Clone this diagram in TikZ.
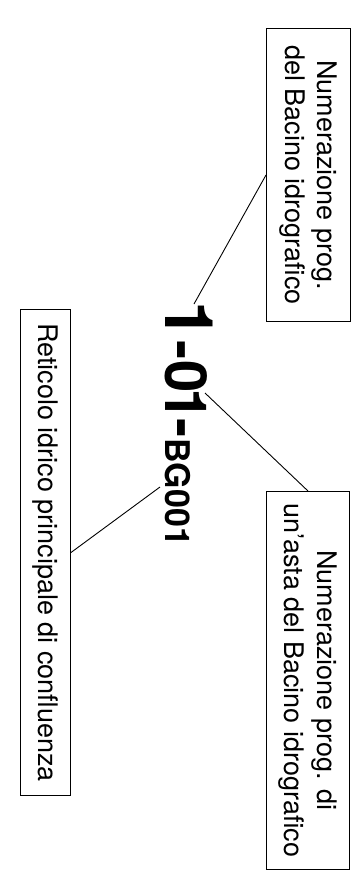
\documentclass[tikz,border=0pt]{standalone}
\usepackage{fontspec}
\setmainfont{TeX Gyre Heros}
\usepackage{tikz}

\begin{document}
\begin{tikzpicture}[x=1pt,y=-1pt,
		box/.style={draw,line width=1pt,rotate=-90,align=center,inner sep=0pt,font=\fontsize{27}{32.4}\selectfont},
		lead/.style={line width=0.9pt}]
				\useasboundingbox (0,0) rectangle (360,892);
				\node[box,minimum width=293pt,minimum height=84pt] (bacino) at (308.5,175) {Numerazione prog.\\del Bacino idrografico};
				\node[box,minimum width=378pt,minimum height=83pt] (asta) at (308,680.5) {Numerazione prog. di\\un'asta del Bacino idrografico};
				\node[box,minimum width=486pt,minimum height=50pt] (reticolo) at (45.5,552.5) {Reticolo idrico principale di confluenza};
				\node[rotate=-90,anchor=base west,inner sep=0pt,font=\bfseries] (codice) at (165,301.5) {\fontsize{67}{67}\selectfont 1\fontsize{58}{58}\selectfont\kern2pt-\kern0.5pt0\kern-4.5pt1\kern-2.5pt-\kern0.8pt\fontsize{34}{34}\selectfont BG001};
				\coordinate (p1) at (194,304);
				\coordinate (p2) at (205,393);
				\coordinate (p3) at (160,487);
				\draw[lead] (bacino.south) -- (p1);
				\draw[lead] (p2) -- (asta.west);
				\draw[lead] (p3) -- (reticolo.north);
			\end{tikzpicture}
\end{document}
